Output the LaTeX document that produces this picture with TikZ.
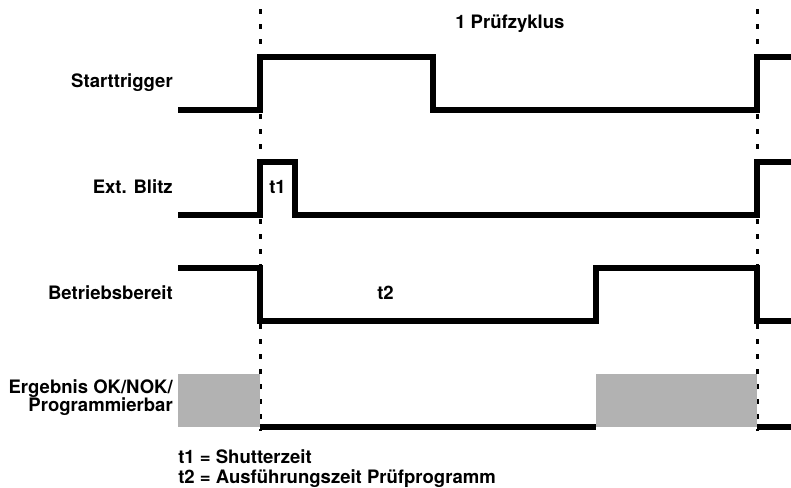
\documentclass[tikz,border=0pt]{standalone}
\usepackage{fontspec}
\setmainfont{TeX Gyre Heros}
\usetikzlibrary{positioning}

\begin{document}
\begin{tikzpicture}[
        x=0.75pt, y=-0.75pt,
        signal/.style={line width=4.2pt, line join=miter},
        cycleline/.style={line width=2.25pt, dash pattern=on 3.75pt off 7.5pt},
        busy/.style={fill=black!30, draw=none},
        sigtext/.style={font=\bfseries\fontsize{13.9}{16}\selectfont, inner sep=0pt}
        ]
        \useasboundingbox (0,0) rectangle (791,487);

        % cycle borders
        \foreach \xc in {260,757} {
            \draw[cycleline] (\xc,9) -- (\xc,431);
        }
        \node[sigtext, anchor=base west] (cycle) at (455,28) {1 Prüfzyklus};

        % Starttrigger
        \node[sigtext, anchor=base east] (start) at (173,87) {Starttrigger};
        \draw[signal] (178,110) -- (260,110) -- (260,57) -- (433,57) -- (433,110)
            -- (757,110) -- (757,57) -- (791,57);

        % Ext. Blitz
        \node[sigtext, anchor=base east] (flash) at (173,193) {Ext. Blitz};
        \draw[signal] (178,215) -- (260,215) -- (260,162) -- (295,162) -- (295,215)
            -- (757,215) -- (757,162) -- (791,162);
        \node[sigtext, anchor=base west] (t1) at (269,193) {t1};

        % Betriebsbereit
        \node[sigtext, anchor=base east] (ready) at (173,299) {Betriebsbereit};
        \draw[signal] (178,268) -- (260,268) -- (260,321) -- (596,321) -- (596,268)
            -- (757,268) -- (757,321) -- (791,321);
        \node[sigtext, anchor=base west] (t2) at (377,299) {t2};

        % Ergebnis
        \node[sigtext, anchor=base east] (result) at (173,393.5) {Ergebnis OK/NOK/};
        \node[sigtext, anchor=base east] (prog) at (173,411) {Programmierbar};
        \fill[busy] (178,374) rectangle (260,427);
        \fill[busy] (596,374) rectangle (757,427);
        \draw[signal] (260,427) -- (596,427);
        \draw[signal] (757,427) -- (791,427);

        % legend
        \node[sigtext, anchor=base west] (legend1) at (178,463) {t1 = Shutterzeit};
        \node[sigtext, anchor=base west] (legend2) at (178,483) {t2 = Ausführungszeit Prüfprogramm};
    \end{tikzpicture}
\end{document}
